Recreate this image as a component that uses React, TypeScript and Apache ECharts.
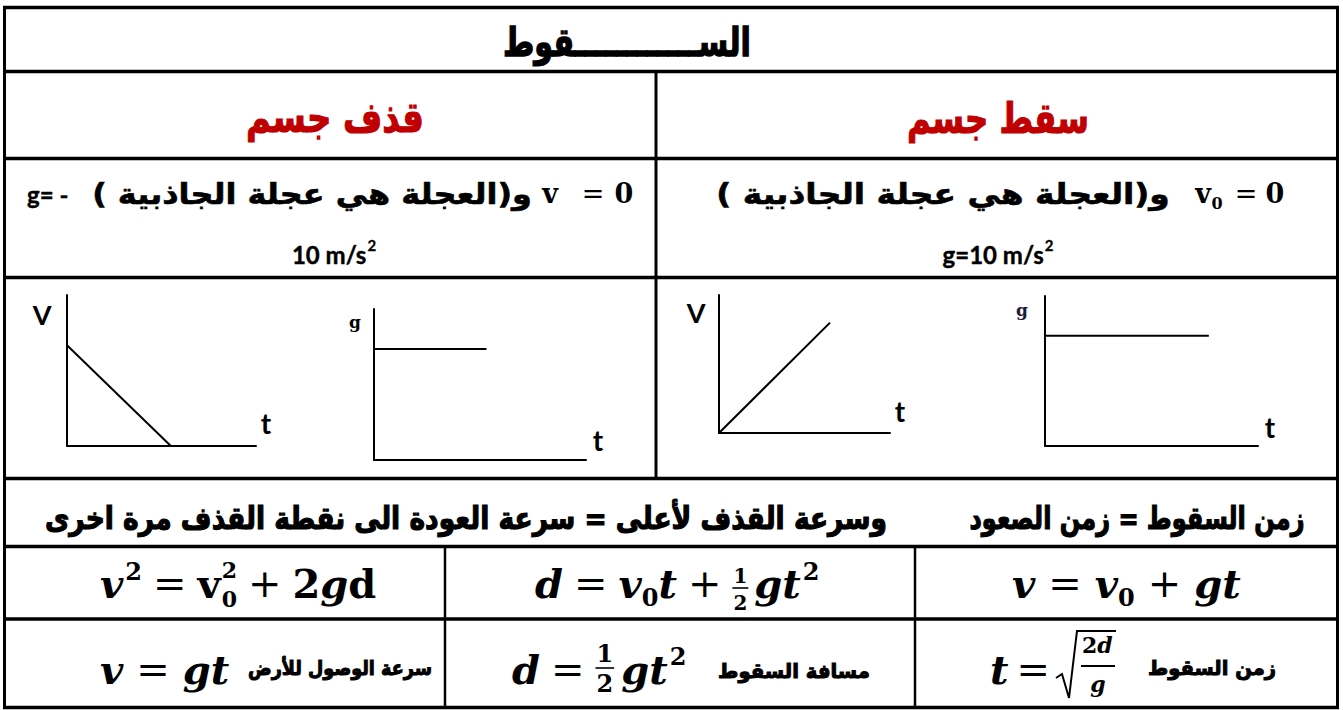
import React, { useEffect, useRef } from "react";
import * as echarts from "echarts";

// ---------------- data ----------------
const titleText = "الســــــــــــقوط";
const headers = ["قذف جسم", "سقط جسم"];
const accelNote = "\u200Fو(العجلة هي عجلة الجاذبية )\u200F";
const gValues = ["10 m/s", "g=10 m/s"];
const gPrefix = "g= -";
const row5Left = "وسرعة القذف لأعلى = سرعة العودة الى نقطة القذف مرة اخرى";
const row5Right = "زمن السقوط = زمن الصعود";
const row7Labels = ["سرعة الوصول للأرض", "مسافة السقوط", "زمن السقوط"];
const axisNames = ["V", "t", "g"];

// graphs: [t, value]
const thrownVelocity = [[0, 20], [2, 0]];
const thrownAccel = [[0, 10], [2, 10]];
const droppedVelocity = [[0, 0], [2, 20]];
const droppedAccel = [[0, 10], [3, 10]];
const axisMaxT = [3.64, 3.77, 3.08, 3.9];
const axisMaxV = [30, 13.6, 25, 13.6];

// ---------------- helpers ----------------
const AR = '"DejaVu Sans", "Noto Sans", sans-serif';
const MF = '"DejaVu Serif", "Liberation Serif", serif';
const LT = 'Lato, "Open Sans", sans-serif';

let ctx: CanvasRenderingContext2D | null = null;
function measure(text: string, font: string): number {
  if (!ctx) ctx = document.createElement("canvas").getContext("2d");
  if (!ctx) return text.length * 10;
  ctx.font = font;
  return ctx.measureText(text).width;
}
function fstr(size: number, bold: boolean, it: boolean, fam: string) {
  return `${it ? "italic" : "normal"} ${bold ? "bold" : "normal"} ${size}px ${fam}`;
}

function T(text: string, x: number, y: number, o: any) {
  const size = o.size;
  const bold = o.bold !== false;
  const it = !!o.italic;
  const fam = o.family || AR;
  const fill = o.fill || "#000";
  let sx = 1;
  if (o.fitW) {
    const w = measure(text, fstr(size, bold, it, fam));
    if (w > 0) sx = o.fitW / w;
  }
  const style: any = {
    text,
    fill,
    fontSize: size,
    fontWeight: bold ? "bold" : "normal",
    fontStyle: it ? "italic" : "normal",
    fontFamily: fam,
    align: o.align || "center",
    verticalAlign: "middle",
  };
  if (o.heavy) {
    style.stroke = fill;
    style.lineWidth = o.heavy;
  }
  return { type: "text", x, y, scaleX: sx, silent: true, z: 10, style };
}

function mtext(t: string, x: number, base: number, size: number, bold: boolean, it: boolean, align = "left") {
  return {
    type: "text",
    x,
    y: base - 0.35 * size,
    silent: true,
    z: 10,
    style: {
      text: t,
      fill: "#000",
      fontSize: size,
      fontWeight: bold ? "bold" : "normal",
      fontStyle: it ? "italic" : "normal",
      fontFamily: MF,
      align,
      verticalAlign: "middle",
    },
  };
}

function mathRow(x0: number, base: number, parts: any[]) {
  const out: any[] = [];
  let x = x0;
  for (const p of parts) {
    x += p.gl || 0;
    if (p.k === "t") {
      const bold = p.bold !== false;
      const it = !!p.it;
      const w = measure(p.t, fstr(p.size, bold, it, MF));
      out.push(mtext(p.t, x, base + (p.dy || 0), p.size, bold, it));
      x += w;
    } else if (p.k === "ss") {
      const w1 = measure(p.sup, fstr(p.size, true, false, MF));
      const w2 = measure(p.sub, fstr(p.size, true, false, MF));
      out.push(mtext(p.sup, x, base + p.supDy, p.size, true, false));
      out.push(mtext(p.sub, x, base + p.subDy, p.size, true, false));
      x += Math.max(w1, w2);
    } else if (p.k === "frac") {
      const w1 = measure(p.num, fstr(p.size, true, false, MF));
      const w2 = measure(p.den, fstr(p.size, true, false, MF));
      const w = Math.max(w1, w2) + 2 * (p.pad || 1);
      out.push(mtext(p.num, x + w / 2, base + p.numDy, p.size, true, false, "center"));
      out.push(mtext(p.den, x + w / 2, base + p.denDy, p.size, true, false, "center"));
      out.push({
        type: "line",
        silent: true,
        z: 10,
        shape: { x1: x, y1: base + p.barDy, x2: x + w, y2: base + p.barDy },
        style: { stroke: "#000", lineWidth: 1.6 },
      });
      x += w;
    }
    x += p.gr || 0;
  }
  return { els: out, end: x };
}

// centered "text" + superscript "2" (Latin)
function supPair(main: string, sup: string, cx: number, cy: number, size: number, supSize: number) {
  const w1 = measure(main, fstr(size, true, false, LT));
  const w2 = measure(sup, fstr(supSize, true, false, LT));
  const x0 = cx - (w1 + w2 + 1) / 2;
  return [
    T(main, x0, cy, { size, family: LT, align: "left", heavy: 0.4 }),
    T(sup, x0 + w1 + 1, cy - size * 0.36, { size: supSize, family: LT, align: "left", heavy: 0.3 }),
  ];
}

function L(x1: number, y1: number, x2: number, y2: number, w = 3) {
  return { type: "line", silent: true, z: 5, shape: { x1, y1, x2, y2 }, style: { stroke: "#000", lineWidth: w } };
}

function buildOption() {
  const els: any[] = [];
  // ---- table lines ----
  const L0 = 4.5, R0 = 1337.5;
  const hy = [7.5, 71.5, 158.5, 277.5, 478.5, 546.5, 619, 707.5];
  hy.forEach((y) => els.push(L(L0 - 1.5, y, R0 + 1.5, y, 3.5)));
  els.push(L(L0, hy[0], L0, hy[7], 3));
  els.push(L(R0, hy[0], R0, hy[7], 3));
  els.push(L(656, hy[1], 656, hy[4], 3));
  els.push(L(445, hy[5], 445, hy[7], 2.5));
  els.push(L(915, hy[5], 915, hy[7], 2.5));

  // ---- title & headers ----
  els.push(T(titleText, 627, 42, { size: 40, fitW: 248, heavy: 1.4 }));
  els.push(T(headers[0], 335, 118, { size: 42, fitW: 178, fill: "#C00000", heavy: 1.2 }));
  els.push(T(headers[1], 998, 118, { size: 42, fitW: 182, fill: "#C00000", heavy: 1.2 }));

  // ---- row 3 ----
  els.push(T(accelNote, 312, 194, { size: 29, fitW: 440, heavy: 0.6 }));
  els.push(T(gPrefix, 27, 194, { size: 24, family: LT, align: "left", heavy: 0.4 }));
  els.push(mtext("v", 550, 203, 27, true, false, "center"));
  els.push(mtext("=", 593, 203, 27, false, false, "center"));
  els.push(mtext("0", 624, 203, 27, true, false, "center"));
  els.push(T(accelNote, 943, 194, { size: 29, fitW: 454, heavy: 0.6 }));
  els.push(mtext("v", 1203, 203, 27, true, false, "center"));
  els.push(mtext("0", 1217, 209, 16, true, false, "center"));
  els.push(mtext("=", 1246, 203, 27, false, false, "center"));
  els.push(mtext("0", 1275, 203, 27, true, false, "center"));
  els.push(...supPair(gValues[0], "2", 334, 254, 24, 15));
  els.push(...supPair(gValues[1], "2", 998, 254, 24, 15));

  // ---- graph axis names ----
  els.push(T(axisNames[0], 42, 314, { size: 27, family: LT }));
  els.push(T(axisNames[1], 266, 423, { size: 28, family: LT }));
  els.push(T(axisNames[2], 355, 322, { size: 17, family: MF }));
  els.push(T(axisNames[1], 598, 440, { size: 28, family: LT }));
  els.push(T(axisNames[0], 696, 312, { size: 27, family: LT }));
  els.push(T(axisNames[1], 900, 411, { size: 28, family: LT }));
  els.push(T(axisNames[2], 1022, 310, { size: 17, family: MF, fill: "#1a1a3a" }));
  els.push(T(axisNames[1], 1270, 427, { size: 28, family: LT }));

  // ---- row 5 ----
  els.push(T(row5Left, 466, 518, { size: 31, fitW: 842, heavy: 1.2 }));
  els.push(T(row5Right, 1137, 518, { size: 31, fitW: 335, heavy: 1.2 }));

  // ---- row 6 formulas ----
  const S = 40, s = 24;
  const eq = { k: "t", t: "=", size: S, bold: false, gl: 11, gr: 11 };
  const plus = { k: "t", t: "+", size: S, bold: false, gl: 11, gr: 11 };
  const b6 = 597;
  els.push(
    ...mathRow(100, b6, [
      { k: "t", t: "v", size: S, it: true },
      { k: "t", t: "2", size: s, dy: -17, gl: 2 },
      eq,
      { k: "t", t: "v", size: S },
      { k: "ss", sup: "2", sub: "0", size: 22, supDy: -19, subDy: 10, gl: 1 },
      plus,
      { k: "t", t: "2", size: S },
      { k: "t", t: "g", size: S, it: true },
      { k: "t", t: "d", size: S },
    ]).els
  );
  els.push(
    ...mathRow(535, b6, [
      { k: "t", t: "d", size: S, it: true },
      eq,
      { k: "t", t: "v", size: S, it: true },
      { k: "t", t: "0", size: s, dy: 9 },
      { k: "t", t: "t", size: S, it: true },
      plus,
      { k: "frac", num: "1", den: "2", size: 20, numDy: -14, denDy: 13, barDy: -9, pad: 1, gr: 6 },
      { k: "t", t: "g", size: S, it: true },
      { k: "t", t: "t", size: S, it: true },
      { k: "t", t: "2", size: s, dy: -17, gl: 2 },
    ]).els
  );
  els.push(
    ...mathRow(1012, b6, [
      { k: "t", t: "v", size: S, it: true },
      { ...eq, gl: 13, gr: 13 },
      { k: "t", t: "v", size: S, it: true },
      { k: "t", t: "0", size: s, dy: 9 },
      { ...plus, gl: 13, gr: 13 },
      { k: "t", t: "g", size: S, it: true },
      { k: "t", t: "t", size: S, it: true },
    ]).els
  );

  // ---- row 7 formulas ----
  const b7 = 683;
  els.push(
    ...mathRow(100, b7, [
      { k: "t", t: "v", size: S, it: true },
      { ...eq, gl: 13, gr: 13 },
      { k: "t", t: "g", size: S, it: true },
      { k: "t", t: "t", size: S, it: true },
    ]).els
  );
  els.push(T(row7Labels[0], 340, 668, { size: 20, fitW: 184, heavy: 1 }));
  els.push(
    ...mathRow(512, b7, [
      { k: "t", t: "d", size: S, it: true },
      eq,
      { k: "frac", num: "1", den: "2", size: 24, numDy: -21, denDy: 9, barDy: -15, pad: 1, gr: 7 },
      { k: "t", t: "g", size: S, it: true },
      { k: "t", t: "t", size: S, it: true },
      { k: "t", t: "2", size: s, dy: -18, gl: 2 },
    ]).els
  );
  els.push(T(row7Labels[1], 794, 671, { size: 20, fitW: 152, heavy: 1 }));
  const r3 = mathRow(990, b7, [{ k: "t", t: "t", size: S, it: true }, { ...eq, gl: 8, gr: 2 }]);
  els.push(...r3.els);
  const rx = r3.end + 4;
  els.push({
    type: "polyline",
    silent: true,
    z: 10,
    shape: {
      points: [
        [rx, b7 - 5],
        [rx + 6, b7 - 9],
        [rx + 13, b7 + 15],
        [rx + 21, b7 - 52],
        [rx + 60, b7 - 52],
      ],
    },
    style: { stroke: "#000", lineWidth: 2, fill: null },
  });
  els.push(...mathRow(rx + 26, b7 - 30, [{ k: "t", t: "2", size: 22 }, { k: "t", t: "d", size: 22, it: true }]).els);
  els.push(L(rx + 25, b7 - 17, rx + 59, b7 - 17, 1.8));
  els.push(mtext("g", rx + 42, b7 + 9, 22, true, true, "center"));
  els.push(T(row7Labels[2], 1212, 668, { size: 20, fitW: 128, heavy: 1 }));

  // ---- graphs ----
  const grids = [
    { left: 67, top: 295, width: 189, height: 151 },
    { left: 374, top: 309, width: 212, height: 151 },
    { left: 719, top: 295, width: 171, height: 138 },
    { left: 1045, top: 296, width: 213, height: 150 },
  ];
  const seriesData = [thrownVelocity, thrownAccel, droppedVelocity, droppedAccel];
  const axisCommon = {
    type: "value",
    axisLine: { show: true, onZero: false, lineStyle: { color: "#000", width: 2 } },
    axisTick: { show: false },
    axisLabel: { show: false },
    splitLine: { show: false },
  };

  return {
    animation: false,
    backgroundColor: "#fff",
    grid: grids.map((g) => ({ ...g, containLabel: false })),
    xAxis: grids.map((_, i) => ({ ...axisCommon, gridIndex: i, min: 0, max: axisMaxT[i] })),
    yAxis: grids.map((_, i) => ({ ...axisCommon, gridIndex: i, min: 0, max: axisMaxV[i] })),
    series: seriesData.map((d, i) => ({
      type: "line",
      xAxisIndex: i,
      yAxisIndex: i,
      data: d,
      symbol: "none",
      silent: true,
      lineStyle: { color: "#000", width: 2 },
    })),
    graphic: { elements: els },
  };
}

export default function App() {
  const ref = useRef<HTMLDivElement>(null);
  useEffect(() => {
    if (!ref.current) return;
    const chart = echarts.init(ref.current, undefined, { renderer: "svg" });
    chart.setOption(buildOption() as any);
    return () => chart.dispose();
  }, []);
  return (
    <div
      ref={ref}
      style={{ position: "fixed", left: 0, top: 0, width: 1343, height: 710, background: "#fff" }}
    />
  );
}
